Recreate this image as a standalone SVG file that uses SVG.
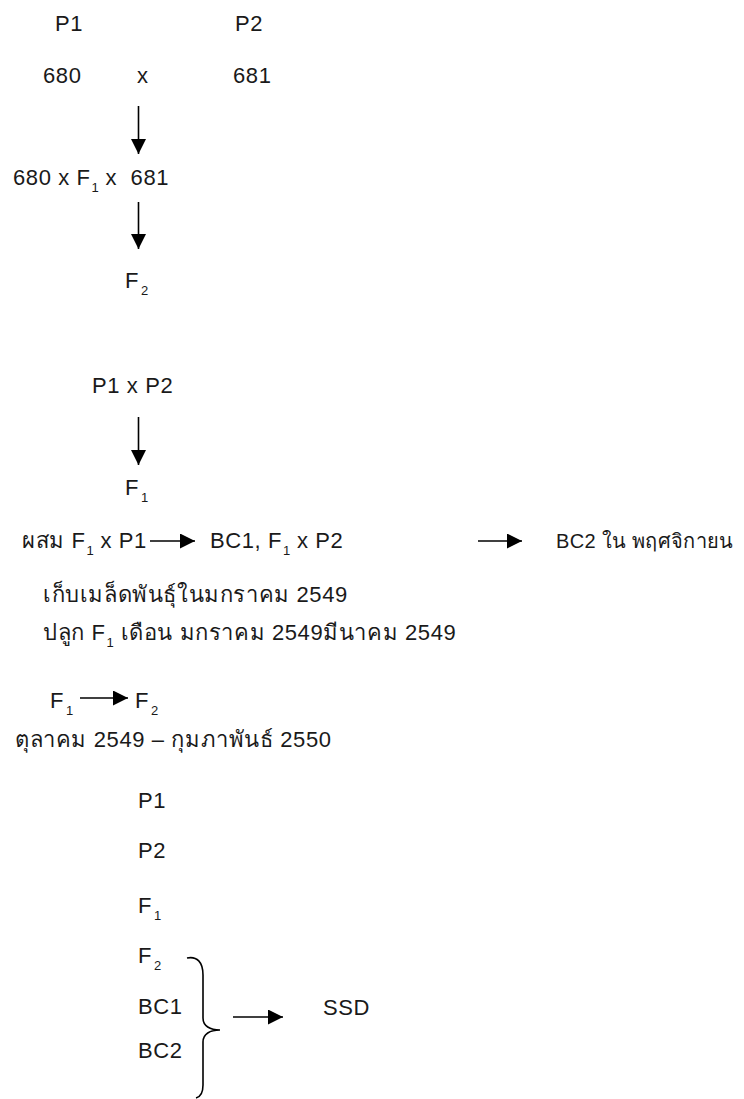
<svg xmlns="http://www.w3.org/2000/svg" width="744" height="1099" viewBox="0 0 744 1099">
<style>
text{font-family:"Liberation Sans","Noto Sans",sans-serif;font-size:22px;letter-spacing:0.6px;fill:#1a1a1a;white-space:pre}
.sub{font-size:13px;letter-spacing:0}
.conn{stroke:#000;stroke-width:1.6;fill:none}
</style>
<defs>
<marker id="ah" markerUnits="userSpaceOnUse" markerWidth="16" markerHeight="16" viewBox="0 0 16 16" refX="15" refY="7.5" orient="auto">
<path d="M0,0 L15,7.5 L0,15 z" fill="#000"/>
</marker>
</defs>
<rect width="744" height="1099" fill="#fff"/>
<g id="n-p1-top"><text x="55" y="31">P1</text></g>
<g id="n-p2-top"><text x="235" y="31">P2</text></g>
<g id="n-cross1"><text x="43" y="83">680</text><text x="137" y="83">x</text><text x="233" y="83">681</text></g>
<g id="n-cross2"><text x="13" y="185">680 x F<tspan class="sub" dx="1" dy="7">1</tspan><tspan dy="-7"> x  681</tspan></text></g>
<g id="n-f2-a"><text x="125" y="288">F<tspan class="sub" dx="2" dy="7">2</tspan></text></g>
<g id="n-p1xp2"><text x="92" y="393">P1 x P2</text></g>
<g id="n-f1-a"><text x="125" y="495">F<tspan class="sub" dx="2" dy="7">1</tspan></text></g>
<g id="n-bc-left"><text x="22" y="548">ผสม F<tspan class="sub" dx="1" dy="7">1</tspan><tspan dy="-7"> x P1</tspan></text></g>
<g id="n-bc-mid"><text x="210" y="548">BC1, F<tspan class="sub" dx="1" dy="7">1</tspan><tspan dy="-7"> x P2</tspan></text></g>
<g id="n-bc2"><text x="556" y="548" style="font-size:20px;letter-spacing:0.3px">BC2 ใน พฤศจิกายน</text></g>
<g id="n-seed"><text x="43" y="602">เก็บเมล็ดพันธุ์ในมกราคม 2549</text></g>
<g id="n-plant"><text x="43" y="640">ปลูก F<tspan class="sub" dx="1" dy="7">1</tspan><tspan dy="-7"> เดือน มกราคม 2549มีนาคม 2549</tspan></text></g>
<g id="n-f1-b"><text x="50" y="708">F<tspan class="sub" dx="2" dy="7">1</tspan></text></g>
<g id="n-f2-b"><text x="135" y="708">F<tspan class="sub" dx="2" dy="7">2</tspan></text></g>
<g id="n-period"><text x="15" y="747">ตุลาคม 2549 – กุมภาพันธ์ 2550</text></g>
<g id="n-list">
<text x="138" y="808">P1</text>
<text x="138" y="858">P2</text>
<text x="138" y="913">F<tspan class="sub" dx="2" dy="7">1</tspan></text>
<text x="138" y="963">F<tspan class="sub" dx="2" dy="7">2</tspan></text>
<text x="138" y="1014">BC1</text>
<text x="138" y="1058">BC2</text>
</g>
<g id="n-ssd"><text x="323" y="1015">SSD</text></g>
<g id="connectors">
<line class="conn" x1="138.5" y1="106" x2="138.5" y2="154" marker-end="url(#ah)"/>
<line class="conn" x1="138.5" y1="202" x2="138.5" y2="249" marker-end="url(#ah)"/>
<line class="conn" x1="138.5" y1="417" x2="138.5" y2="465" marker-end="url(#ah)"/>
<line class="conn" x1="150" y1="541" x2="195" y2="541" marker-end="url(#ah)"/>
<line class="conn" x1="478" y1="541" x2="522" y2="541" marker-end="url(#ah)"/>
<line class="conn" x1="80" y1="698" x2="128" y2="698" marker-end="url(#ah)"/>
<line class="conn" x1="233" y1="1017" x2="283" y2="1017" marker-end="url(#ah)"/>
<path class="conn" d="M187,958 C197,956 203,962 203,975 L203,1018 C203,1026 210,1030 220,1030 C210,1030 203,1034 203,1042 L203,1085 C203,1094 200,1097 196,1098"/>
</g>
</svg>
